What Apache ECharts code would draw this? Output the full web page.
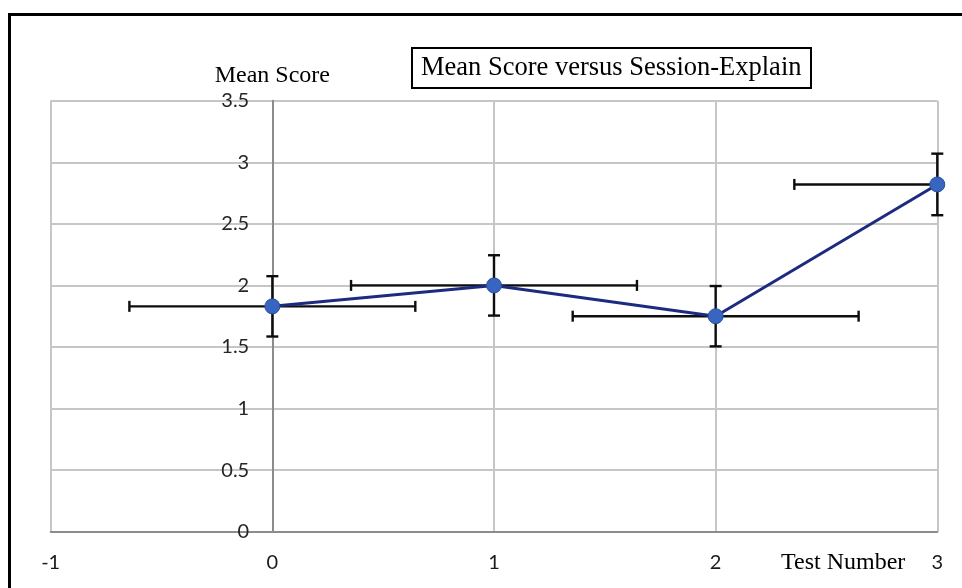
<!DOCTYPE html>
<html>
<head>
<meta charset="utf-8">
<script src="https://cdn.jsdelivr.net/npm/echarts@6/dist/echarts.min.js"></script>
<style>
  html, body { margin: 0; padding: 0; background: #fff; }
  #chart { width: 962px; height: 588px; }
</style>
</head>
<body>
<div id="chart"></div>
<script>
// Test sessions and mean scores with their error margins
const testNumbers = [0, 1, 2, 3];
const meanScores = [1.83, 2.0, 1.75, 2.82];
const scoreErr = [0.245, 0.245, 0.245, 0.25];
const sessionErr = [0.645, 0.645, 0.645, 0.645];
const xTicks = [-1, 0, 1, 2, 3];
const yTicks = [0, 0.5, 1, 1.5, 2, 2.5, 3, 3.5];

const serif = '"Liberation Serif", "Times New Roman", serif';
const sans = 'Lato, "Open Sans", sans-serif';

const points = testNumbers.map((t, i) => [t, meanScores[i]]);
const errData = testNumbers.map((t, i) => [t, meanScores[i], sessionErr[i], scoreErr[i]]);

const chart = echarts.init(document.getElementById('chart'), null, { renderer: 'canvas' });

// Error bars in both directions, clipped to the plot rectangle
function renderErrorBars(params, api) {
  const x = api.value(0), y = api.value(1), ex = api.value(2), ey = api.value(3);
  const cs = params.coordSys;
  const left = cs.x, right = cs.x + cs.width, top = cs.y, bottom = cs.y + cs.height;
  const c = api.coord([x, y]);
  const xl = api.coord([x - ex, y])[0];
  const xr = api.coord([x + ex, y])[0];
  const yt = api.coord([x, y + ey])[1];
  const yb = api.coord([x, y - ey])[1];
  const cap = 5.5;
  const style = { stroke: '#0d0d0d', lineWidth: 2.4 };
  const kids = [];
  const cxl = Math.max(xl, left), cxr = Math.min(xr, right);
  kids.push({ type: 'line', shape: { x1: cxl, y1: c[1], x2: cxr, y2: c[1] }, style });
  if (xl >= left - 0.5) kids.push({ type: 'line', shape: { x1: xl, y1: c[1] - cap, x2: xl, y2: c[1] + cap }, style });
  if (xr <= right + 0.5) kids.push({ type: 'line', shape: { x1: xr, y1: c[1] - cap, x2: xr, y2: c[1] + cap }, style });
  const cyt = Math.max(yt, top), cyb = Math.min(yb, bottom);
  kids.push({ type: 'line', shape: { x1: c[0], y1: cyt, x2: c[0], y2: cyb }, style });
  kids.push({ type: 'line', shape: { x1: c[0] - cap - 0.5, y1: yt, x2: c[0] + cap + 0.5, y2: yt }, style });
  kids.push({ type: 'line', shape: { x1: c[0] - cap - 0.5, y1: yb, x2: c[0] + cap + 0.5, y2: yb }, style });
  return { type: 'group', children: kids };
}

const option = {
  backgroundColor: '#fff',
  animation: false,
  title: {
    text: 'Mean Score versus Session-Explain',
    left: 412,
    top: 48,
    padding: [6, 10, 6, 9],
    borderColor: '#000',
    borderWidth: 2,
    textStyle: { fontFamily: serif, fontSize: 26.5, fontWeight: 'normal', color: '#000', lineHeight: 28 }
  },
  grid: { left: 50.7, right: 24.7, top: 100.7, bottom: 56.3, containLabel: false },
  xAxis: {
    type: 'value',
    min: xTicks[0],
    max: xTicks[xTicks.length - 1],
    interval: 1,
    axisLine: { show: true, onZero: false, lineStyle: { color: '#8c8c8c', width: 2 } },
    axisTick: { show: false },
    axisLabel: { margin: 21, color: '#1a1a1a', fontFamily: sans, fontSize: 20 },
    splitLine: { show: true, lineStyle: { color: '#c6c6c6', width: 2 } }
  },
  yAxis: {
    type: 'value',
    min: yTicks[0],
    max: yTicks[yTicks.length - 1],
    interval: 0.5,
    name: 'Mean Score',
    nameLocation: 'end',
    nameGap: 13,
    nameTextStyle: { fontFamily: serif, fontSize: 24, color: '#000', align: 'center', verticalAlign: 'bottom' },
    axisLine: { show: true, onZero: true, lineStyle: { color: '#8c8c8c', width: 2 } },
    axisTick: { show: false },
    // tick labels sit just left of the axis line at x = 0, inside the plot
    axisLabel: { margin: -198.5, color: '#262626', fontFamily: sans, fontSize: 20 },
    splitLine: { show: true, lineStyle: { color: '#c6c6c6', width: 2 } }
  },
  series: [
    {
      type: 'custom',
      renderItem: renderErrorBars,
      data: errData,
      encode: { x: 0, y: 1 },
      z: 3,
      silent: true
    },
    {
      type: 'line',
      data: points,
      symbol: 'circle',
      symbolSize: 15,
      lineStyle: { color: '#1c2b80', width: 3 },
      itemStyle: { color: '#3765c0', borderColor: '#2a4f9c', borderWidth: 1 },
      z: 5
    }
  ],
  graphic: [
    {
      type: 'rect',
      shape: { x: 9.5, y: 14.5, width: 1000, height: 1000 },
      style: { fill: 'none', stroke: '#000', lineWidth: 3 },
      silent: true
    },
    {
      type: 'text',
      left: 781,
      top: 551,
      style: { text: 'Test Number', fontFamily: serif, fontSize: 24, fill: '#000' }
    }
  ]
};

chart.setOption(option);
</script>
</body>
</html>
